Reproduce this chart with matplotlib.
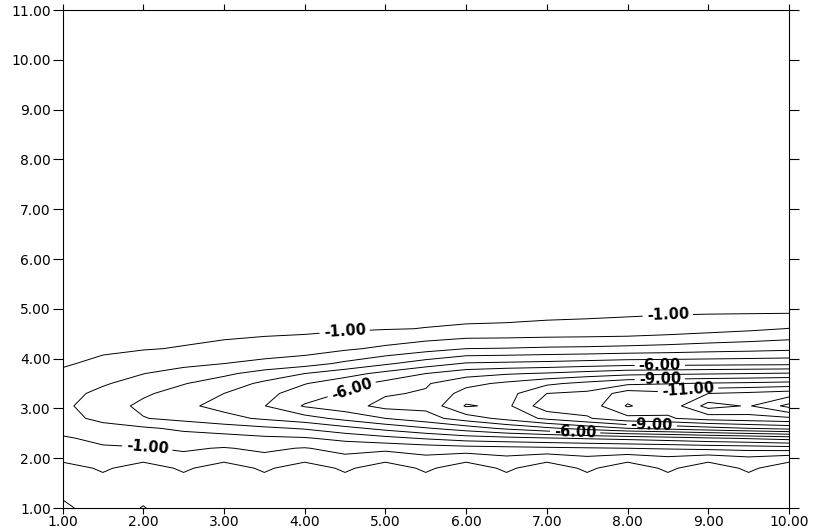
import numpy as np
import matplotlib
matplotlib.use("Agg")
import matplotlib.pyplot as plt

# grid: x nodes, y nodes, and one column of values per x node (bottom -> top)
x_nodes = [1.0, 1.5, 2.0, 2.5, 3.0, 3.5, 4.0, 4.5, 5.0, 5.5, 6.0, 6.5, 7.0, 7.5, 8.0, 8.5, 9.0, 9.5, 10.0]
y_nodes = [1.0, 1.5, 1.8, 2.0, 2.2, 2.4, 2.6, 2.8, 3.05, 3.3, 3.5, 3.7, 3.9, 4.2, 4.6, 5.0, 11.0]

z_columns = [
    [1.25, 0.5, 0.6, -0.4, -0.7, -0.9, -1.3, -1.6, -1.8, -1.65, -1.45, -1.15, -0.9, -0.75, -0.6, -0.5, -0.2],
    [0.4, 0.5, -0.2, -0.8, -0.9, -1.2, -1.6, -2.3, -2.51, -2.25, -1.9, -1.55, -1.2, -0.85, -0.65, -0.52, -0.2],
    [1.05, 0.5, 0.6, -0.4, -0.95, -1.35, -1.85, -2.95, -3.23, -2.85, -2.4, -1.98, -1.5, -0.95, -0.7, -0.55, -0.2],
    [0.4, 0.5, -0.2, -0.8, -1.1, -1.55, -2.2, -3.3, -3.8, -3.4, -2.95, -2.4, -1.75, -1.05, -0.72, -0.56, -0.2],
    [0.5, 0.5, 0.6, -0.4, -0.95, -1.6, -2.5, -3.7, -4.3, -4.0, -3.5, -2.8, -2.0, -1.2, -0.75, -0.58, -0.2],
    [0.5, 0.5, -0.2, -0.8, -1.15, -1.8, -2.8, -4.15, -4.97, -4.7, -4.2, -3.4, -2.3, -1.35, -0.78, -0.6, -0.2],
    [0.5, 0.5, 0.6, -0.4, -0.95, -1.9, -3.1, -4.6, -6.1, -5.5, -4.95, -4.0, -2.6, -1.5, -0.8, -0.6, -0.2],
    [0.5, 0.5, -0.2, -0.8, -1.3, -2.3, -3.7, -5.3, -6.6, -6.1, -5.6, -4.6, -3.2, -1.85, -0.88, -0.64, -0.2],
    [0.5, 0.5, 0.6, -0.4, -1.25, -2.7, -4.3, -6.0, -7.3, -6.9, -6.3, -5.3, -3.85, -2.2, -0.95, -0.68, -0.2],
    [0.5, 0.5, -0.2, -0.8, -1.45, -3.1, -4.9, -6.6, -7.27, -7.1, -6.9, -6.0, -4.5, -2.6, -1.02, -0.72, -0.2],
    [0.5, 0.5, 0.6, -0.4, -1.6, -3.5, -5.5, -7.5, -9.1, -8.4, -7.7, -6.6, -5.1, -3.0, -1.08, -0.75, -0.2],
    [0.5, 0.5, -0.2, -0.8, -1.7, -3.7, -6.2, -8.3, -8.75, -8.6, -8.2, -6.9, -5.2, -3.05, -1.1, -0.77, -0.2],
    [0.5, 0.5, 0.6, -0.4, -1.8, -3.9, -6.8, -9.2, -10.65, -10.0, -8.8, -7.1, -5.3, -3.15, -1.15, -0.8, -0.2],
    [0.5, 0.5, -0.2, -0.8, -1.9, -4.1, -7.4, -9.9, -10.4, -10.2, -9.3, -7.4, -5.45, -3.2, -1.18, -0.82, -0.2],
    [0.5, 0.5, 0.6, -0.4, -2.0, -4.3, -8.0, -10.7, -12.1, -11.5, -9.8, -7.7, -5.6, -3.3, -1.22, -0.85, -0.2],
    [0.5, 0.5, -0.2, -0.8, -2.1, -4.55, -8.3, -10.9, -11.3, -11.2, -9.95, -7.8, -5.62, -3.4, -1.4, -0.82, -0.2],
    [0.5, 0.5, 0.6, -0.4, -2.25, -4.85, -8.65, -11.4, -13.4, -12.0, -10.1, -7.9, -5.65, -3.55, -1.6, -0.78, -0.2],
    [0.5, 0.5, -0.2, -0.8, -2.35, -5.1, -9.0, -11.6, -12.9, -12.2, -10.2, -8.0, -5.7, -3.65, -1.8, -0.74, -0.2],
    [0.5, 0.5, 0.6, -0.4, -2.5, -5.4, -9.3, -11.8, -14.3, -12.5, -10.35, -8.1, -5.73, -3.78, -2.03, -0.7, -0.2],
]

levels = list(range(-14, 2))
label_levels = [-11, -9, -6, -1]
# rough spots where the reference puts its labels
label_spots = [(2.05, 2.2), (4.5, 4.45), (8.5, 4.85), (4.6, 3.3), (8.4, 3.86),
               (8.4, 3.58), (8.75, 3.36), (7.35, 2.52), (8.3, 2.67)]
x_ticks = list(range(1, 11))
y_ticks = list(range(1, 12))

plt.rcParams['font.family'] = ['DejaVu Sans']
plt.rcParams['axes.unicode_minus'] = False

fig = plt.figure(figsize=(8.16, 5.30), dpi=100)
ax = fig.add_axes([0.0766, 0.0415, 0.8903, 0.9396])

X, Y = np.meshgrid(x_nodes, y_nodes)
Z = np.array(z_columns).T

plain_levels = [v for v in levels if v not in label_levels]
ax.contour(X, Y, Z, levels=plain_levels, colors='black', linewidths=0.7, linestyles='solid')
cs_lab = ax.contour(X, Y, Z, levels=label_levels, colors='black', linewidths=0.7, linestyles='solid')

ax.set_xlim(1, 10)
ax.set_ylim(1, 11)
ax.set_xticks(x_ticks)
ax.set_yticks(y_ticks)
ax.set_xticklabels([f"{v:.2f}" for v in x_ticks])
ax.set_yticklabels([f"{v:.2f}" for v in y_ticks])
ax.tick_params(axis='both', direction='out', top=True, right=True,
               labeltop=False, labelright=False, labelsize=10, width=0.8, colors='black')
ax.tick_params(axis='y', length=7, pad=1.5)
ax.tick_params(axis='x', length=4, pad=1)
for s in ax.spines.values():
    s.set_linewidth(0.8)

with plt.rc_context({'font.weight': 'bold'}):
    ax.clabel(cs_lab, manual=label_spots, fmt=lambda v: f"{v:.2f}",
              fontsize=10.5, inline=True, inline_spacing=4)

fig.savefig("out.png", dpi=100)
